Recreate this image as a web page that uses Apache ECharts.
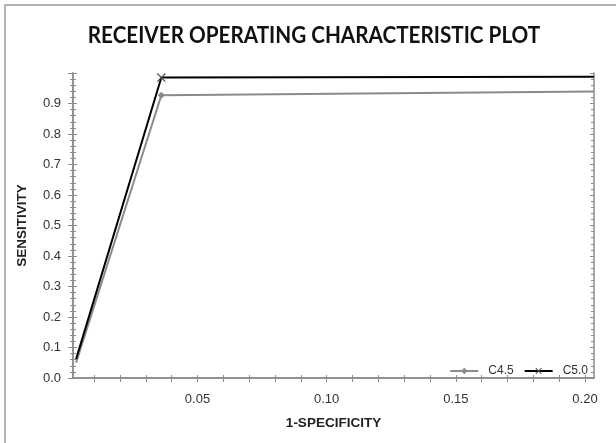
<!DOCTYPE html>
<html><head><meta charset="utf-8">
<script src="https://cdn.jsdelivr.net/npm/echarts@6/dist/echarts.min.js"></script>
<style>html,body{margin:0;padding:0;background:#fff}#c{width:616px;height:443px}</style>
</head><body><div id="c"></div>
<script>
const titleText = 'RECEIVER OPERATING CHARACTERISTIC PLOT';
const seriesNames = ['C4.5', 'C5.0'];
const xC45 = [0.003, 0.036, 0.2035];
const yC45 = [0.05, 0.927, 0.939];
const xC50 = [0.003, 0.036, 0.2035];
const yC50 = [0.062, 0.985, 0.988];
const xLabelValues = [0.05, 0.10, 0.15, 0.20];
const xTickValues = [0.01,0.02,0.03,0.04,0.05,0.06,0.07,0.08,0.09,0.10,0.11,0.12,0.13,0.14,0.15,0.16,0.17,0.18,0.19,0.20];
const xMin = 0.0018, xMax = 0.2035;

const axisGray = '#8c8c8c';
const font = "'Liberation Sans', Arial, sans-serif";
const xCross = 'path://M0,1L1,0L5,4L9,0L10,1L6,5L10,9L9,10L5,6L1,10L0,9L4,5Z';

function pairs(xs, ys){ return xs.map((x,i)=>[x, ys[i]]); }

const chart = echarts.init(document.getElementById('c'), null, {renderer:'canvas'});
const baseY = {type:'value', min:0, max:1, interval:0.1, gridIndex:0,
  axisLine:{show:true, lineStyle:{color:axisGray, width:1.5}}, splitLine:{show:false}};
chart.setOption({
  animation:false,
  backgroundColor:'#fff',
  graphic:[
    {type:'rect', shape:{x:5, y:5, width:700, height:600}, style:{fill:'none', stroke:'#b4b4b4', lineWidth:2}, silent:true},
    {type:'text', x:314, y:36, scaleX:0.9, scaleY:1, originX:0, originY:0, silent:true,
     style:{text:titleText, textAlign:'center', textVerticalAlign:'middle', fill:'#111',
       font:"bold 23px Lato, sans-serif"}}
  ],
  grid:{left:73, right:22, top:73, bottom:65, containLabel:false},
  legend:{data:seriesNames, right:23, top:360, itemWidth:28, itemHeight:8, itemGap:10,
    textStyle:{fontFamily:font, fontSize:12, color:'#333', padding:[0,0,0,5]}},
  xAxis:[
    {type:'value', min:xMin, max:xMax, position:'bottom',
     name:'1-SPECIFICITY', nameLocation:'middle', nameGap:38,
     nameTextStyle:{fontFamily:font, fontWeight:'bold', fontSize:13.5, color:'#222'},
     axisLine:{show:true, lineStyle:{color:axisGray, width:1.5}},
     axisTick:{show:true, customValues:xTickValues, length:4, lineStyle:{color:axisGray}},
     axisLabel:{customValues:xLabelValues, formatter:v=>v.toFixed(2), fontFamily:font, fontSize:13, color:'#333', margin:15},
     splitLine:{show:false}},
    {type:'value', min:xMin, max:xMax, position:'top',
     axisLine:{show:true, lineStyle:{color:axisGray, width:1.5}},
     axisTick:{show:true, customValues:xTickValues, length:3, lineStyle:{color:axisGray}},
     axisLabel:{show:false, customValues:xLabelValues}, splitLine:{show:false}}
  ],
  yAxis:[
    Object.assign({}, baseY, {position:'left',
      name:'SENSITIVITY', nameLocation:'middle', nameGap:44,
      nameTextStyle:{fontFamily:font, fontWeight:'bold', fontSize:13.5, color:'#222'},
      axisTick:{show:true, length:5, lineStyle:{color:axisGray}},
      minorTick:{show:true, splitNumber:5, length:3, lineStyle:{color:axisGray}},
      axisLabel:{showMaxLabel:false, formatter:v=>v.toFixed(1), fontFamily:font, fontSize:13, color:'#333', margin:12}}),
    Object.assign({}, baseY, {position:'left',
      axisTick:{show:true, inside:true, length:4, lineStyle:{color:axisGray}},
      minorTick:{show:true, splitNumber:5, length:3, lineStyle:{color:axisGray}},
      axisLabel:{show:false}}),
    Object.assign({}, baseY, {position:'right',
      axisTick:{show:true, inside:true, length:4, lineStyle:{color:axisGray}},
      minorTick:{show:true, splitNumber:5, length:3, lineStyle:{color:axisGray}},
      axisLabel:{show:false}})
  ],
  series:[
    {name:seriesNames[0], type:'line', data:pairs(xC45, yC45), xAxisIndex:0, yAxisIndex:0,
     symbol:'diamond', symbolSize:(v,p)=>p.dataIndex===1?7:0, showSymbol:true,
     color:'#8a8a8a', lineStyle:{color:'#8a8a8a', width:2}, itemStyle:{color:'#8a8a8a'}},
    {name:seriesNames[1], type:'line', data:pairs(xC50, yC50), xAxisIndex:0, yAxisIndex:0,
     symbol:xCross, symbolSize:(v,p)=>p.dataIndex===1?9:0, showSymbol:true,
     color:'#000', lineStyle:{color:'#000', width:2}, itemStyle:{color:'#555'}}
  ]
});
</script></body></html>
